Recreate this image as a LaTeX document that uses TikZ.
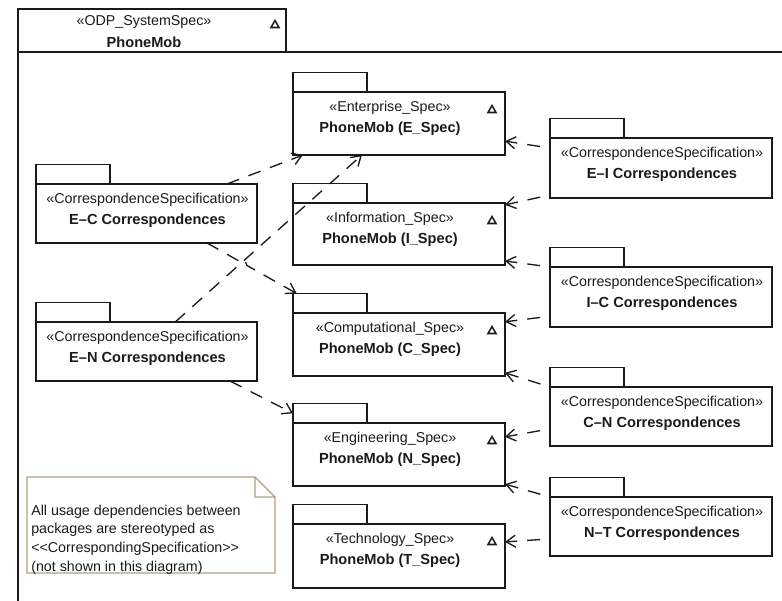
\documentclass[tikz,border=0pt]{standalone}
\usepackage{fontspec}
\setmainfont{Liberation Sans}
\usetikzlibrary{calc,arrows.meta}
\definecolor{ink}{HTML}{1A1A1A}
\definecolor{noteline}{HTML}{ADA27C}
\tikzset{
  pkgbody/.style={draw=ink, line width=1.4pt, rectangle, inner sep=0pt, outer sep=0pt},
  pkgtab/.style={draw=ink, line width=1.4pt, rectangle, inner sep=0pt, outer sep=0pt,
    minimum width=55.5pt, minimum height=14.6pt},
  stereo/.style={inner sep=0pt, font=\fontsize{10.7}{13}\selectfont, text=ink},
  pkgtitle/.style={inner sep=0pt, font=\fontsize{10.95}{13}\selectfont\bfseries, text=ink},
  notetext/.style={inner sep=0pt, align=left, font=\fontsize{10.7}{14}\selectfont, text=ink},
  frame/.style={draw=ink, line width=1.4pt},
  usage/.style={draw=ink, line width=1pt, dash pattern=on 9.75pt off 7.5pt,
    -{Straight Barb[length=7pt,width=9pt]}},
  usageR/.style={usage, dash phase=9.75pt},
  tri/.style={draw=ink, line width=1.15pt, line join=miter},
}
% package: name, x, y (top of body), width, height, text x offset, stereotype, title
\newcommand\umlpkg[8]{%
  \node[pkgbody, anchor=north west, minimum width=#4*0.75pt, minimum height=#5*0.75pt] (#1) at (#2,#3) {};
  \node[pkgtab, anchor=south west] (#1tab) at (#1.north west) {};
  \node[stereo, anchor=base] (#1st) at ($(#1.north west)+(#6,19)$) {«#7»};
  \node[pkgtitle, anchor=base] (#1ti) at ($(#1.north west)+(#6,40)$) {#8};
}
% small abstract-marker triangle in the upper right corner of a package
\newcommand\pkgtri[1]{\draw[tri] ($(#1.north east)+(-17,20.5)$) -- ++(8,0) -- ++(-4,-7) -- cycle;}

\begin{document}
\begin{tikzpicture}[x=0.75pt,y=-0.75pt]
\useasboundingbox (0,0) rectangle (782,600);

% enclosing system specification frame
\node[pkgbody, anchor=north west, minimum width=268*0.75pt, minimum height=43*0.75pt] (sys) at (18,9) {};
\node[stereo, anchor=base] (sysst) at ($(sys.north west)+(126,16)$) {«ODP\_SystemSpec»};
\node[pkgtitle, anchor=base] (systi) at ($(sys.north west)+(126,38)$) {PhoneMob};
\draw[tri] ($(sys.north east)+(-15,18.5)$) -- ++(8,0) -- ++(-4,-7) -- cycle;
\draw[frame] (18,620) -- (sys.south west) -- (800,52);

% viewpoint specifications
\umlpkg{espec}{293}{92}{212}{63}{97}{Enterprise\_Spec}{PhoneMob (E\_Spec)}
\umlpkg{ispec}{293}{203}{212}{62}{97}{Information\_Spec}{PhoneMob (I\_Spec)}
\umlpkg{cspec}{293}{313}{212}{63}{97}{Computational\_Spec}{PhoneMob (C\_Spec)}
\umlpkg{nspec}{293}{423}{212}{63}{97}{Engineering\_Spec}{PhoneMob (N\_Spec)}
\umlpkg{tspec}{293}{524}{212}{64}{97}{Technology\_Spec}{PhoneMob (T\_Spec)}
\pkgtri{espec}\pkgtri{ispec}\pkgtri{cspec}\pkgtri{nspec}\pkgtri{tspec}

% correspondence specifications
\umlpkg{ec}{36}{184}{221}{59}{111.5}{CorrespondenceSpecification}{E\textendash C Correspondences}
\umlpkg{en}{36}{322}{221}{59}{111.5}{CorrespondenceSpecification}{E\textendash N Correspondences}
\umlpkg{ei}{550}{138}{222}{60}{112}{CorrespondenceSpecification}{E\textendash I Correspondences}
\umlpkg{ic}{550}{267}{222}{60}{112}{CorrespondenceSpecification}{I\textendash C Correspondences}
\umlpkg{cn}{550}{387}{222}{59}{112}{CorrespondenceSpecification}{C\textendash N Correspondences}
\umlpkg{nt}{550}{497}{222}{59}{112}{CorrespondenceSpecification}{N\textendash T Correspondences}

% comment note
\draw[noteline, line width=0.8pt] (27,477) -- (255,477) -- (275,497) -- (275,573) -- (27,573) -- cycle
  (255,477) -- (255,497) -- (275,497);
\node[notetext, anchor=north west] (note) at (31,504.5)
  {All usage dependencies between\\packages are stereotyped as\\<{}<CorrespondingSpecification>{}>\\(not shown in this diagram)};

% usage dependencies, left side
\draw[usage] ($(ec.north west)!0.864!(ec.north east)$) -- ($(espec.south west)!0.047!(espec.south east)$);
\draw[usage] ($(en.north west)!0.63!(en.north east)$) -- ($(espec.south west)!0.325!(espec.south east)$);
\coordinate (h0) at ($(ec.south west)!0.774!(ec.south east)$);
\coordinate (h1) at ($(cspectab.north west)!0.05!(cspectab.north east)$);
\draw[usage] (h0) -- ($(h0)!0.35!(h1)$) -- ($(h0)!0.40!(h1)+(1,-5)$) -- ($(h0)!0.445!(h1)$) -- (h1);
\draw[usage] ($(en.south west)!0.878!(en.south east)$) -- (nspectab.west);

% usage dependencies, right side
\draw[usageR] ($(ei.north west)!0.167!(ei.south west)$) -- ($(espec.north east)!0.78!(espec.south east)$);
\draw[usageR] ($(ei.north west)!0.95!(ei.south west)$) -- ($(ispec.north east)!0.03!(ispec.south east)$);
\draw[usageR] (ic.north west) -- ($(ispec.north east)!0.935!(ispec.south east)$);
\draw[usageR] ($(ic.north west)!0.82!(ic.south west)$) -- ($(cspec.north east)!0.14!(cspec.south east)$);
\draw[usageR] (cn.north west) -- ($(cspec.north east)!0.95!(cspec.south east)$);
\draw[usageR] ($(cn.north west)!0.71!(cn.south west)$) -- ($(nspec.north east)!0.22!(nspec.south east)$);
\draw[usageR] (nt.north west) -- ($(nspec.north east)!0.97!(nspec.south east)$);
\draw[usageR] ($(nt.north west)!0.71!(nt.south west)$) -- ($(tspec.north east)!0.28!(tspec.south east)$);
\end{tikzpicture}
\end{document}
